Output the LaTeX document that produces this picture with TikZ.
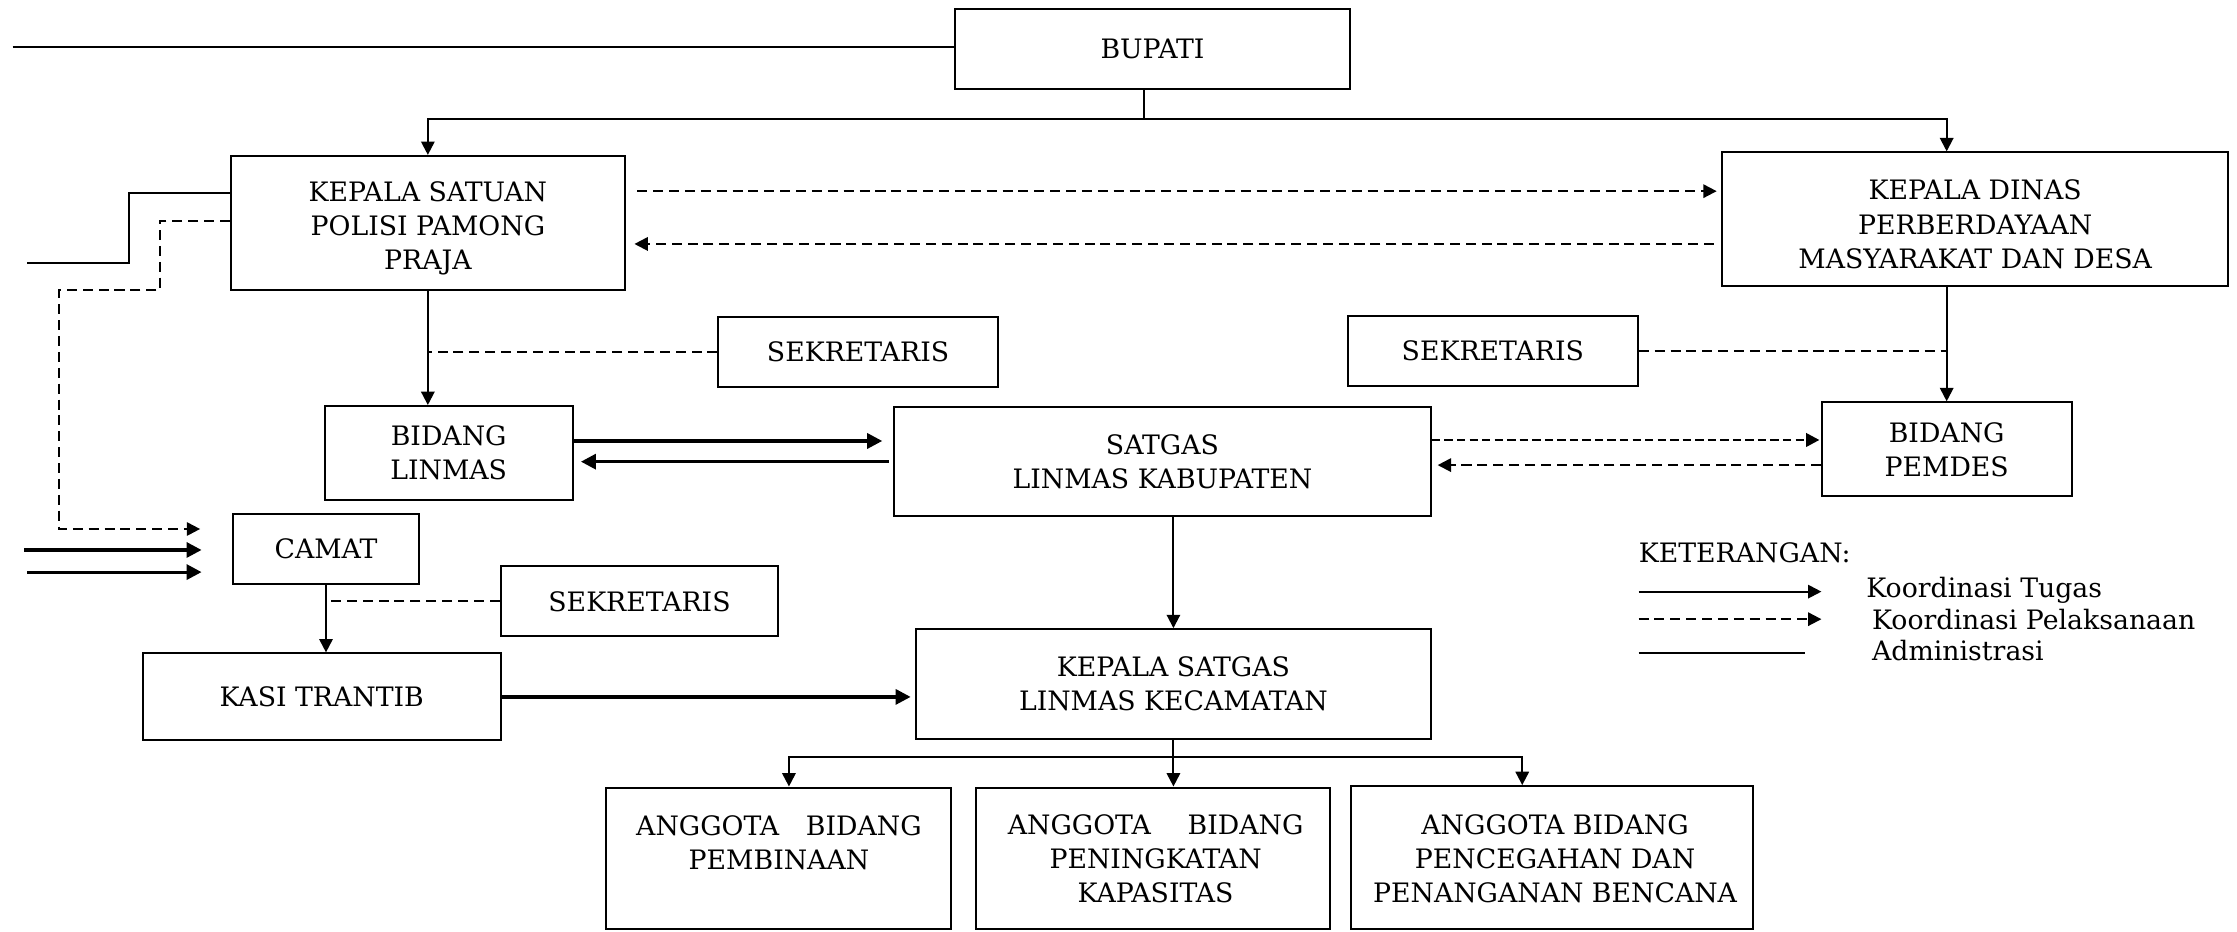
\documentclass[tikz,border=0pt]{standalone}
\usepackage{fontspec}
\setmainfont{DejaVu Serif}
\usetikzlibrary{arrows.meta,calc,fit}
\begin{document}
\begin{tikzpicture}[x=0.03cm,y=-0.03cm,
  txt/.style={font=\fontsize{16}{20.4}\selectfont},
  box/.style={draw, line width=1.2pt, inner sep=0pt},
  lbl/.style={inner sep=0pt, align=center, txt},
  conn/.style={line width=1.2pt},
  arr/.style={conn, -{Triangle[length=8pt,width=8pt]}},
  thickarr/.style={line width=1.9pt, -{Triangle[length=9pt,width=9pt]}},
  dsh/.style={line width=1.2pt, dash pattern=on 6pt off 3.5pt},
  darr/.style={dsh, -{Triangle[length=8pt,width=8pt]}},
  darrb/.style={line width=1.7pt, dash pattern=on 5pt off 2.5pt, -{Triangle[length=8pt,width=8pt]}},
]
\useasboundingbox (0,0) rectangle (1568,653);

% boxes
\node[box, fit={(669.7,6.3) (946,62.4)}] (bupati) {};
\node[box, fit={(161.8,109.3) (438,203.3)}] (ksat) {};
\node[box, fit={(1207,106.8) (1562,200.6)}] (kdin) {};
\node[box, fit={(503.6,222) (699.3,271)}] (sek1) {};
\node[box, fit={(944.7,221.5) (1148,270.6)}] (sek2) {};
\node[box, fit={(227.5,284.6) (401.5,350.5)}] (blinmas) {};
\node[box, fit={(626.6,285) (1003,362)}] (satgas) {};
\node[box, fit={(1277,282) (1452,348)}] (pemdes) {};
\node[box, fit={(163,360) (294,409)}] (camat) {};
\node[box, fit={(351,397) (545.5,446)}] (sek3) {};
\node[box, fit={(100,458) (351,519)}] (kasi) {};
\node[box, fit={(642,441) (1003,518)}] (ksatgas) {};
\node[box, fit={(425,552) (666.6,651.5)}] (ang1) {};
\node[box, fit={(684,552) (932,651.5)}] (ang2) {};
\node[box, fit={(947,551) (1229,651.5)}] (ang3) {};

% box texts
\node[lbl] (bupatit) at (bupati.center) {BUPATI};
\node[lbl] (ksatt) at ($(ksat.center)+(0,4)$) {KEPALA SATUAN\\POLISI PAMONG\\PRAJA};
\node[lbl] (kdint) at ($(kdin.center)+(0,3.5)$) {KEPALA DINAS\\PERBERDAYAAN\\MASYARAKAT DAN DESA};
\node[lbl] (sek1t) at (sek1.center) {SEKRETARIS};
\node[lbl] (sek2t) at (sek2.center) {SEKRETARIS};
\node[lbl] (blinmast) at (blinmas.center) {BIDANG\\LINMAS};
\node[lbl] (satgast) at (satgas.center) {SATGAS\\LINMAS KABUPATEN};
\node[lbl] (pemdest) at (pemdes.center) {BIDANG\\PEMDES};
\node[lbl] (camatt) at (camat.center) {CAMAT};
\node[lbl] (sek3t) at (sek3.center) {SEKRETARIS};
\node[lbl] (kasit) at (kasi.center) {KASI TRANTIB};
\node[lbl] (ksatgast) at (ksatgas.center) {KEPALA SATGAS\\LINMAS KECAMATAN};
\node[lbl] (ang1t) at (546,591) {ANGGOTA\hspace{16pt}BIDANG\\PEMBINAAN};
\node[lbl] (ang2t) at (810,602) {ANGGOTA\hspace{22pt}BIDANG\\PENINGKATAN\\KAPASITAS};
\node[lbl] (ang3t) at (1090,602) {ANGGOTA BIDANG\\PENCEGAHAN DAN\\PENANGANAN BENCANA};

% BUPATI connections
\coordinate (adm0) at (8.8,32.7);
\draw[conn] (adm0) -- (adm0 -| bupati.west);
\coordinate (j1) at (802,83.4);
\draw[arr] (j1 |- bupati.south) -- (j1) -| (ksat.north);
\draw[arr] (j1) -| (pemdes.north |- kdin.north);

% KEPALA SATUAN <-> KEPALA DINAS
\draw[darr] ($(ksat.east |- 0,134)+(8,0)$) -- ($(kdin.west |- 0,134)+(-3,0)$);
\draw[darr] ($(kdin.west |- 0,171)+(-5,0)$) -- ($(ksat.east |- 0,171)+(6,0)$);

% left lines from KEPALA SATUAN
\coordinate (adm1) at (18.8,184.6);
\draw[conn] (ksat.west |- 0,135.5) -| (90.1,184.6) -- (adm1);
\draw[darr] (ksat.west |- 0,154.7) -| (112,203.3) -| (41.6,370.8) -- ($(camat.west |- 0,370.8)+(-22,0)$);
\coordinate (c1) at (17,385.5);
\coordinate (c2) at (19,401);
\draw[thickarr] (c1) -- ($(camat.west |- c1)+(-21,0)$);
\draw[thickarr] (c2) -- ($(camat.west |- c2)+(-21,0)$);

% KEPALA SATUAN -> BIDANG LINMAS
\draw[arr] (ksat.south) -- (ksat.south |- blinmas.north);
\draw[dsh] (sek1.west) -- (sek1.west -| ksat.south);

% BIDANG LINMAS <-> SATGAS
\draw[thickarr] (blinmas.east |- 0,309.1) -- ($(satgas.west |- 0,309.1)+(-7.5,0)$);
\draw[thickarr] ($(satgas.west |- 0,323.6)+(-3,0)$) -- ($(blinmas.east |- 0,323.6)+(5,0)$);

% SATGAS <-> PEMDES
\draw[darrb] (satgas.east |- 0,308.4) -- ($(pemdes.west |- 0,308.4)+(-1,0)$);
\draw[darr] (pemdes.west |- 0,326) -- ($(satgas.east |- 0,326)+(4,0)$);

% KEPALA DINAS -> PEMDES
\draw[arr] (pemdes.north |- kdin.south) -- (pemdes.north);
\draw[dsh] (sek2.east) -- (sek2.east -| pemdes.north);

% SATGAS -> KEPALA SATGAS
\draw[arr] (ksatgas.north |- satgas.south) -- (ksatgas.north);

% CAMAT -> KASI
\draw[arr] (camat.south) -- (camat.south |- kasi.north);
\draw[dsh] (sek3.west) -- (sek3.west -| camat.south);

% KASI -> KEPALA SATGAS
\draw[thickarr] (kasi.east) -- ($(kasi.east -| ksatgas.west)+(-3,0)$);

% KEPALA SATGAS -> ANGGOTA
\coordinate (b0) at (ksatgas.south |- 0,530.4);
\coordinate (b1) at (553,530.4);
\coordinate (b3) at (1067,530.4);
\draw[arr] (ksatgas.south) -- (b0) -- (b1) -- (b1 |- ang1.north);
\draw[arr] (b0) -- (b3) -- (b3 |- ang3.north);
\draw[arr] (b0) -- (b0 |- ang2.north);

% legend
\node[lbl, anchor=west] (ket) at (1148.5,387.8) {KETERANGAN:};
\coordinate (l1a) at (1148.5,414.7);
\coordinate (l1b) at (1276.7,414.7);
\coordinate (l2a) at (1148.5,434);
\coordinate (l2b) at (1276.7,434);
\coordinate (l3a) at (1148.5,457.9);
\coordinate (l3b) at (1265,457.9);
\draw[arr] (l1a) -- (l1b);
\draw[darr] (l2a) -- (l2b);
\draw[conn] (l3a) -- (l3b);
\node[lbl, anchor=west] (l1t) at (1308,413.5) {Koordinasi Tugas};
\node[lbl, anchor=west] (l2t) at (1312,434) {Koordinasi Pelaksanaan};
\node[lbl, anchor=west] (l3t) at (1312,456) {Administrasi};
\end{tikzpicture}
\end{document}
